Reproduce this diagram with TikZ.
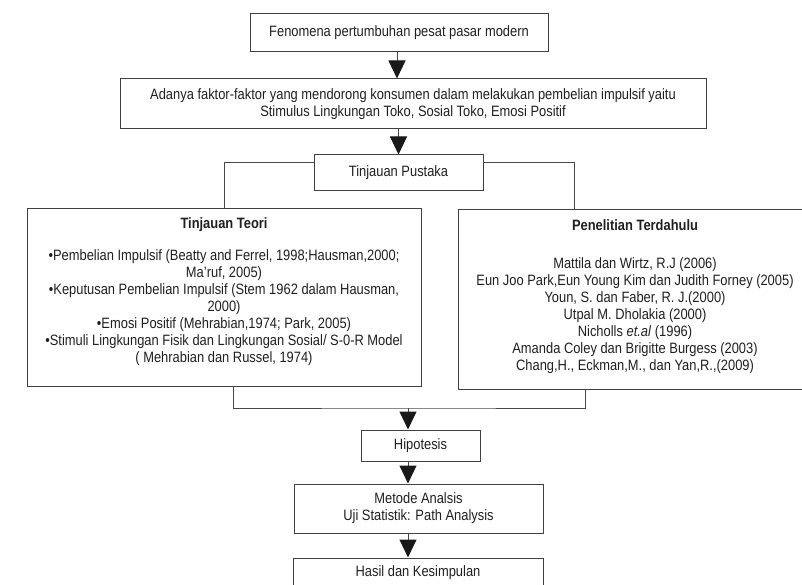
\documentclass[tikz,border=0pt]{standalone}
\usepackage{fontspec}
\setmainfont{Liberation Sans}[FakeStretch=0.86]
\usetikzlibrary{arrows.meta,calc}
\begin{document}
\begin{tikzpicture}[x=1pt,y=-1pt,
  every node/.style={font=\fontsize{15}{17}\selectfont, text=black!88, inner sep=0pt},
  box/.style={draw=black!75, line width=1pt},
  lnk/.style={draw=black!72, line width=1pt},
  arr/.style={lnk, -{Triangle[width=17pt,length=18pt,color=black!90]}}]
\useasboundingbox (0,0) rectangle (802,585);
% boxes
\node[box, minimum width=298pt, minimum height=38pt] (b1) at (399,33) {Fenomena pertumbuhan pesat pasar modern};
\node[box, minimum width=586pt, minimum height=50pt, align=center] (b2) at (413,104)
  {Adanya faktor-faktor yang mendorong konsumen dalam melakukan pembelian impulsif yaitu\\Stimulus Lingkungan Toko, Sosial Toko, Emosi Positif};
\node[box, minimum width=169pt, minimum height=36pt] (tp) at (398.5,173) {Tinjauan Pustaka};
\node[box, minimum width=394pt, minimum height=177pt] (teori) at (224,297.5) {};
\node[box, minimum width=356pt, minimum height=179pt] (pen) at (636,299.5) {};
\node (teoriT) at (224,225) {\bfseries Tinjauan Teori};
\node[align=center] (teoriL) at (224,308) {%
  \textbullet Pembelian Impulsif (Beatty and Ferrel, 1998;Hausman,2000;\\
  Ma’ruf, 2005)\\
  \textbullet Keputusan Pembelian Impulsif (Stem 1962 dalam Hausman,\\
  2000)\\
  \textbullet Emosi Positif (Mehrabian,1974; Park, 2005)\\
  \textbullet Stimuli Lingkungan Fisik dan Lingkungan Sosial/ S-0-R Model\\
  ( Mehrabian dan Russel, 1974)};
\node (penT) at (635,225) {\bfseries Penelitian Terdahulu};
\node[align=center] (penL) at (635,316) {%
  Mattila dan Wirtz, R.J (2006)\\
  Eun Joo Park,Eun Young Kim dan Judith Forney (2005)\\
  Youn, S. dan Faber, R. J.(2000)\\
  Utpal M. Dholakia (2000)\\
  Nicholls \textit{et.al} (1996)\\
  Amanda Coley dan Brigitte Burgess (2003)\\
  Chang,H., Eckman,M., dan Yan,R.,(2009)};
\node[box, minimum width=119pt, minimum height=31pt] (hip) at (420.5,445.5) {Hipotesis};
\node[box, minimum width=249pt, minimum height=49pt, align=center] (met) at (418.5,508.5)
  {Metode Analsis\\Uji Statistik: Path Analysis};
\node[box, minimum width=250pt, minimum height=36pt] (has) at (418,576) {};
\node (hasT) at (418,573) {Hasil dan Kesimpulan};
% connectors
\coordinate (j) at (408,408);
\draw[arr] (b1.south -| 397,0) -- (b2.north -| 397,0);
\draw[arr] (b2.south -| tp.north) -- (tp.north);
\draw[lnk] ([yshift=10pt]tp.west) -| (teori.north);
\draw[lnk] ([yshift=10pt]tp.east) -| ([xshift=-62pt]pen.north);
\draw[lnk] ([xshift=9pt]teori.south) |- (j) -| ([xshift=-51pt]pen.south);
\draw[arr] (j) -- (j |- hip.north);
\draw[arr] (hip.south -| j) -- (met.north -| j);
\draw[arr] (met.south -| j) -- (has.north -| j);
\end{tikzpicture}
\end{document}
